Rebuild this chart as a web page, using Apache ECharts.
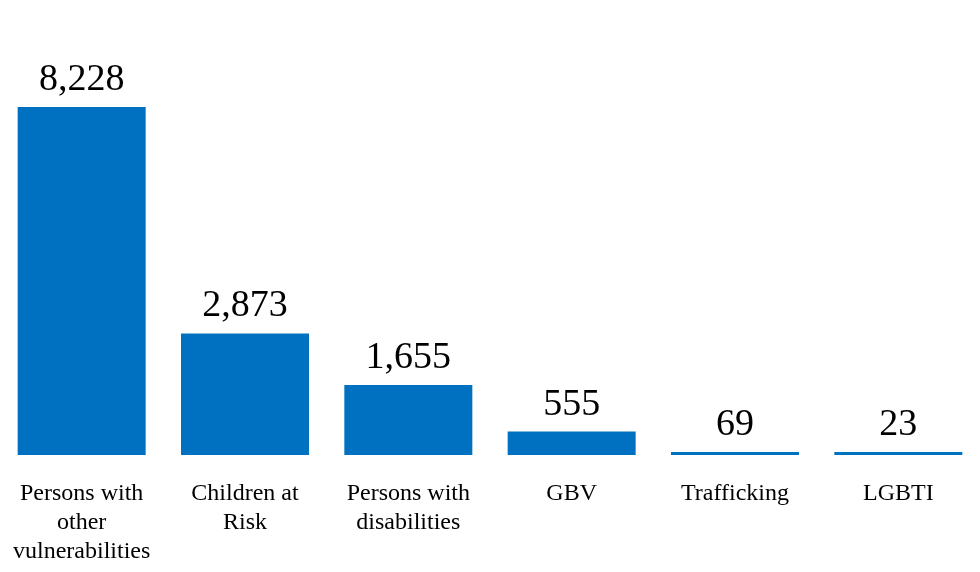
<!DOCTYPE html>
<html>
<head>
<meta charset="utf-8">
<script src="https://cdn.jsdelivr.net/npm/echarts@6/dist/echarts.min.js"></script>
<style>html,body{margin:0;padding:0;background:#fff}#c{width:980px;height:572px}</style>
</head>
<body>
<div id="c"></div>
<script>
const categories = ["Persons with\nother\nvulnerabilities", "Children at\nRisk", "Persons with\ndisabilities", "GBV", "Trafficking", "LGBTI"];
const values = [8228, 2873, 1655, 555, 69, 23];

const chart = echarts.init(document.getElementById('c'));
chart.setOption({
  animation: false,
  grid: { left: -1, right: -3, top: 107, bottom: 117, containLabel: false },
  xAxis: {
    type: 'category',
    data: categories,
    axisLine: { show: false },
    axisTick: { show: false },
    axisLabel: {
      fontFamily: 'Liberation Serif',
      fontSize: 24,
      lineHeight: 29,
      color: '#000',
      margin: 24,
      interval: 0
    }
  },
  yAxis: {
    type: 'value',
    min: 0,
    max: 8228,
    show: false,
    splitLine: { show: false }
  },
  series: [{
    type: 'bar',
    data: values,
    barWidth: 128,
    barMinHeight: 3,
    itemStyle: { color: '#0070C0' },
    label: {
      show: true,
      position: 'top',
      distance: 8,
      fontFamily: 'Liberation Serif',
      fontSize: 38,
      color: '#000',
      formatter: p => p.value.toLocaleString('en-US')
    }
  }]
});
</script>
</body>
</html>
